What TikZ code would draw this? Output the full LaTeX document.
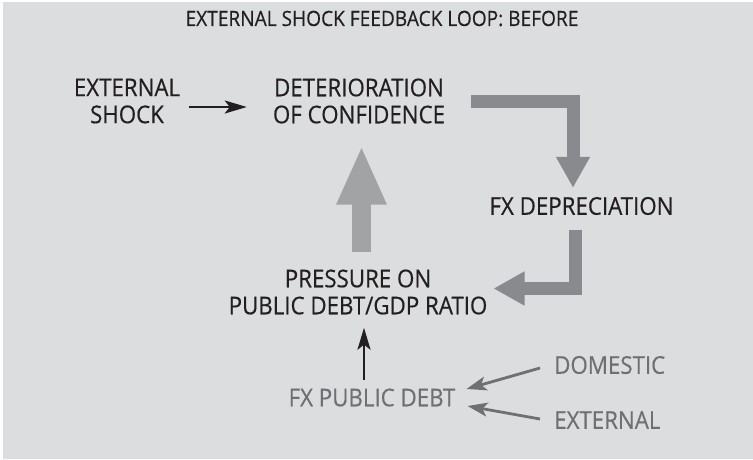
\documentclass[tikz,border=0pt]{standalone}
\usepackage{fontspec}
\setmainfont[FakeStretch=0.91,FakeBold=0.4]{Open Sans}
\usetikzlibrary{arrows.meta,calc}
\definecolor{bgc}{HTML}{DCDDDF}
\definecolor{txt}{HTML}{231F20}
\definecolor{gtxt}{HTML}{6F7073}
\definecolor{darkarr}{HTML}{898A8D}
\definecolor{lightarr}{HTML}{A2A3A5}
\tikzset{
  lbl/.style={inner sep=0pt, align=center, text=txt, font=\fontsize{24.5}{27}\selectfont},
  glbl/.style={lbl, text=gtxt},
  ttl/.style={inner sep=0pt, text=txt, font=\fontsize{21}{24}\selectfont},
  bigarr/.style={draw=darkarr, line width=13pt, line join=miter,
    -{Triangle[length=31pt,width=32pt]}},
  uparr/.style={draw=lightarr, line width=19pt,
    -{Triangle[length=59pt,width=46pt]}},
  blackarr/.style={draw=txt, line width=2.5pt,
    -{Stealth[length=22pt,width=13pt,inset=5pt]}},
  greyarr/.style={draw=gtxt, line width=2.8pt,
    -{Stealth[length=20pt,width=14pt,inset=5pt]}},
}
\begin{document}
\begin{tikzpicture}[x=1pt,y=-1pt]
\useasboundingbox (0,0) rectangle (753,459);
\fill[white] (0,0) rectangle (753,459);
\fill[bgc] (3,2) rectangle (753,459);

\node[ttl] (title) at (382,18.5) {EXTERNAL SHOCK FEEDBACK LOOP: BEFORE};
\node[lbl] (ext) at (127,101) {EXTERNAL\\SHOCK};
\node[lbl] (det) at (359,101) {DETERIORATION\\OF CONFIDENCE};
\node[lbl] (fx) at (581.5,206) {FX DEPRECIATION};
\node[lbl] (press) at (358,292) {PRESSURE ON\\PUBLIC DEBT/GDP RATIO};
\node[glbl] (fxdebt) at (372,397.5) {FX PUBLIC DEBT};
\node[glbl,anchor=west] (dom) at (554,365) {DOMESTIC};
\node[glbl,anchor=west] (extn) at (554,420) {EXTERNAL};

\draw[blackarr] ($(ext.east)+(9,6)$) -- ($(det.west)+(-26,6)$);
\draw[bigarr] ($(det.east)+(26,0.5)$) -| ($(fx.north)+(-8.5,-9)$);
\draw[bigarr] ($(fx.south)+(-6,15)$) |- ($(press.east)+(6,-3.5)$);
\draw[uparr] ($(press.north)+(3.5,-17)$) -- ($(det.south)+(2.5,22)$);
\draw[blackarr] ($(fxdebt.north)+(-8,-8)$) -- ($(press.south)+(6,13)$);
\draw[greyarr] ($(dom.west)+(-14,3)$) -- ($(fxdebt.east)+(11,-8.5)$);
\draw[greyarr] ($(extn.west)+(-14,-1)$) -- ($(fxdebt.east)+(12,8.5)$);
\end{tikzpicture}
\end{document}
